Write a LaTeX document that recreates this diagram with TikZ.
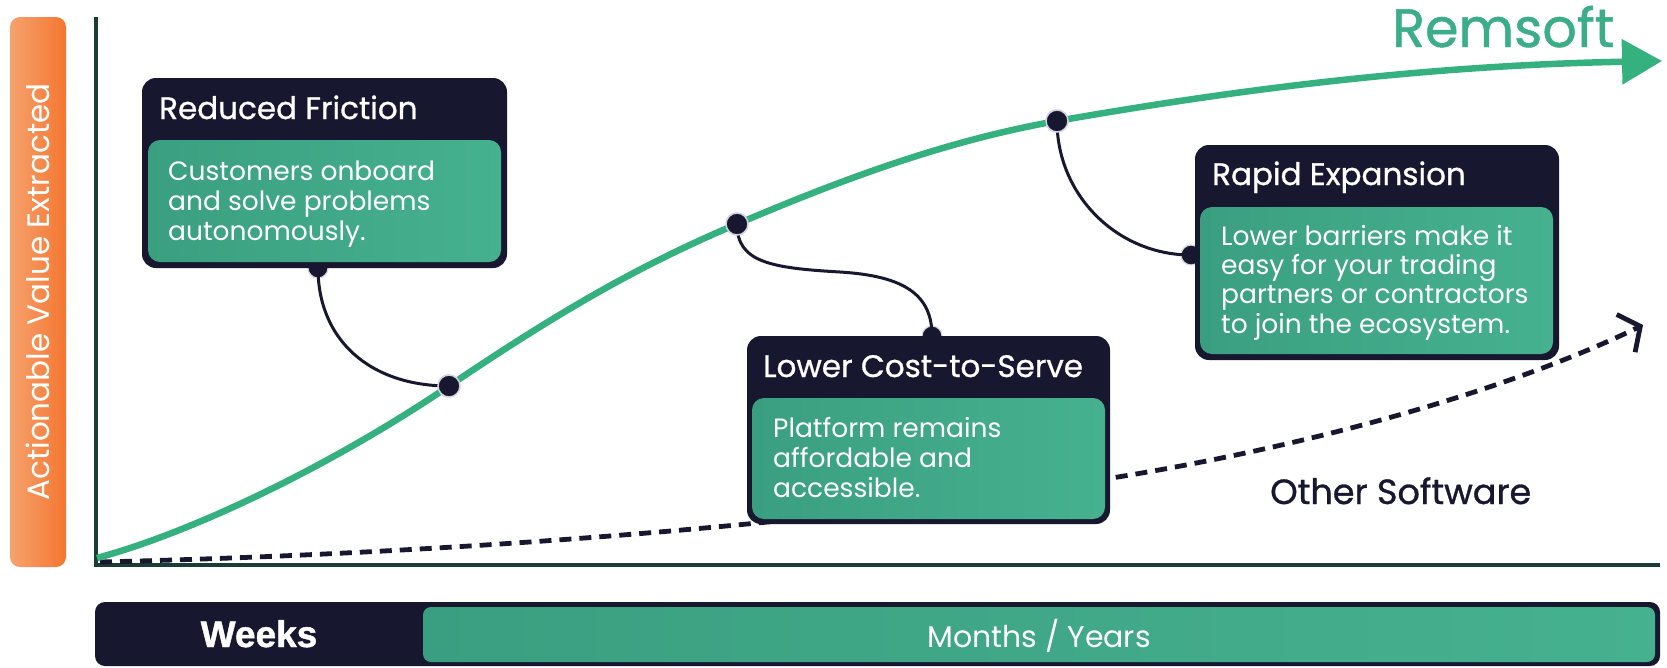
\documentclass[tikz,border=0pt]{standalone}
\usepackage{fontspec}
\setmainfont{Poppins}
\newfontfamily\medfont{Poppins}[FakeBold=0.9]
\newfontfamily\wkfont{Liberation Sans}[FakeBold=1.2]
\usetikzlibrary{arrows.meta}
\definecolor{navy}{HTML}{17172F}
\definecolor{curvegreen}{HTML}{34B17F}
\definecolor{boxgreenA}{HTML}{3A9F80}
\definecolor{boxgreenB}{HTML}{46B18F}
\definecolor{axisgreen}{HTML}{1B3D33}
\definecolor{orangeA}{HTML}{F6A26E}
\definecolor{orangeB}{HTML}{F47630}
\definecolor{ringgrey}{HTML}{D4D4E2}
\definecolor{remgreen}{HTML}{3BAE88}
\tikzset{
  outerbox/.style={fill=navy, rounded corners=14pt, inner sep=0pt, draw=none},
  innerbox/.style={left color=boxgreenA, right color=boxgreenB, rounded corners=12pt, inner sep=0pt, draw=none},
  titletext/.style={anchor=base west, inner sep=0pt, text=white, font=\medfont\fontsize{31}{36}\selectfont},
  bodytext/.style={anchor=base west, inner sep=0pt, text=white, align=left, font=\fontsize{26.5}{30}\selectfont},
  dotnode/.style={circle, fill=navy, draw=ringgrey, line width=1.5pt, minimum size=22pt, inner sep=0pt},
  knobnode/.style={circle, fill=navy, draw=ringgrey, line width=1.2pt, minimum size=20pt, inner sep=0pt},
  linkline/.style={draw=navy, line width=3pt},
  axisline/.style={draw=axisgreen, line width=3.5pt},
}
\begin{document}
\begin{tikzpicture}[x=1pt,y=-1pt]
\useasboundingbox (0,0) rectangle (1667,667);

% y-axis label bar
\node[rounded corners=10pt, left color=orangeA, right color=orangeB, minimum width=56pt, minimum height=550pt, inner sep=0pt] (ylab) at (38,292) {};
\node[rotate=90, text=white, font=\fontsize{31}{34}\selectfont, inner sep=0pt] (ylabtext) at (ylab.center) {Actionable Value Extracted};

% axes
\draw[axisline] (96,17) -- (96,565) -- (1660,565);

% other software (dashed)
\coordinate (osstart) at (100,562);
\coordinate (osend) at (1643,325);
\draw[navy, line width=4.8pt, dash pattern=on 12pt off 8pt, -{Straight Barb[length=16pt,width=42pt]}]
  (osstart) .. controls (400,555) and (800,530) .. (1130,475) .. controls (1350,438) and (1530,380) .. (osend);

% Remsoft curve
\coordinate (rstart) at (97,558);
\coordinate (rend) at (1662,61);
\node[knobnode] (k1) at (318,268) {};
\node[knobnode] (k2) at (932,336) {};
\node[knobnode] (k3) at (1191,255) {};
\node[dotnode] (d1) at (449,386) {};
\node[dotnode] (d2) at (737,224) {};
\node[dotnode] (d3) at (1057,121) {};

\draw[curvegreen, line width=6.5pt, -{Triangle[length=40pt,width=44pt]}]
  (rstart) .. controls (200,530) and (340,460) .. (d1.center)
  .. controls (560,311) and (640,265) .. (d2.center)
  .. controls (850,176) and (950,140) .. (d3.center)
  .. controls (1200,96) and (1400,66) .. (rend);

\node[anchor=base west, inner sep=0pt, text=remgreen, font=\medfont\fontsize{54}{60}\selectfont] (rem) at (1392,47) {Remsoft};
\node[anchor=base west, inner sep=0pt, text=navy, font=\medfont\fontsize{35}{40}\selectfont] (other) at (1270,504) {Other Software};

% connectors
\draw[linkline] (k1.center) .. controls (318,340) and (370,386) .. (d1.center);
\draw[linkline] (d2.center) .. controls (737,262) and (770,268) .. (840,272) .. controls (905,276) and (932,295) .. (k2.center);
\draw[linkline] (d3.center) .. controls (1057,195) and (1117,255) .. (k3.center);
\node[dotnode] at (d1.center) {};
\node[dotnode] at (d2.center) {};
\node[dotnode] at (d3.center) {};

% box 1
\node[outerbox, minimum width=365pt, minimum height=190pt] (b1) at (324.5,173) {};
\node[innerbox, minimum width=353pt, minimum height=122pt] (g1) at (324.5,201) {};
\node[titletext] (t1) at (159,119) {Reduced Friction};
\node[bodytext] (x1) at (168,240) {Customers onboard\\and solve problems\\autonomously.};

% box 2
\node[outerbox, minimum width=363pt, minimum height=188pt] (b2) at (928.5,430) {};
\node[innerbox, minimum width=353pt, minimum height=121pt] (g2) at (928.5,458.5) {};
\node[titletext] (t2) at (763,377) {Lower Cost-to-Serve};
\node[bodytext] (x2) at (773,497) {Platform remains\\affordable and\\accessible.};

% box 3
\node[outerbox, minimum width=364pt, minimum height=215pt] (b3) at (1377,252.5) {};
\node[innerbox, minimum width=353pt, minimum height=147pt] (g3) at (1376.5,280.5) {};
\node[titletext] (t3) at (1212,185) {Rapid Expansion};
\node[bodytext, font=\fontsize{26.5}{29.3}\selectfont] (x3) at (1221,333) {Lower barriers make it\\easy for your trading\\partners or contractors\\to join the ecosystem.};

% time bar
\node[fill=navy, rounded corners=10pt, minimum width=1565pt, minimum height=64pt, inner sep=0pt] (bar) at (877.5,634) {};
\node[left color=boxgreenA, right color=boxgreenB, rounded corners=8pt, minimum width=1232pt, minimum height=55pt, inner sep=0pt] (barg) at (1039,634.5) {};
\node[anchor=base, inner sep=0pt, text=white, font=\wkfont\bfseries\fontsize{37}{40}\selectfont] (weeks) at (259,647) {Weeks};
\node[anchor=base, inner sep=0pt, text=white, font=\fontsize{30}{34}\selectfont] (months) at (1039,647) {Months / Years};
\end{tikzpicture}
\end{document}
